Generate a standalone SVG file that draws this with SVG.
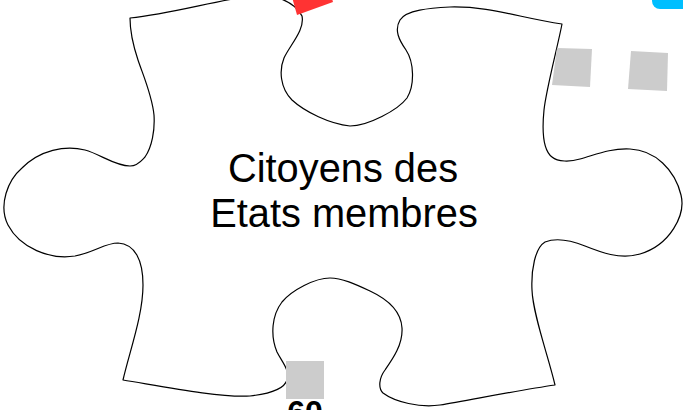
<svg xmlns="http://www.w3.org/2000/svg" width="683" height="410" viewBox="0 0 683 410">
<style>
.piece{fill:#ffffff;stroke:#000000;stroke-width:1.2;stroke-linejoin:round}
.gray{fill:#cccccc}
.lbl{font-family:"Liberation Sans",Arial,sans-serif;font-size:39.8px;fill:#000000;text-anchor:middle}
.num{font-family:"Liberation Sans",Arial,sans-serif;font-size:32px;font-weight:bold;fill:#000000;text-anchor:middle}
</style>
<rect x="0" y="0" width="683" height="410" fill="#ffffff"/>
<g id="piece">
<path class="piece" d="M130,18 C170,14 210,2 250,-4 C275,-7 295,2 302,16 C305,30 290,45 284,58 C279,70 280,88 292,100 C305,112 330,124 350,126 C368,126 398,110 407,98 C415,85 414,62 406,50 C399,40 394,30 400,20 C406,10 430,8 450,7 C490,6 520,18 562,24 C558,45 546,90 544,110 C542,130 543,150 552,157 C558,162 570,162 580,159 C595,155 610,148 630,149 C655,150 675,170 681,195 C686,215 670,245 640,254 C620,260 600,252 585,246 C570,240 555,238 545,242 C535,248 531,270 532,290 C533,315 548,355 555,385 C520,390 470,400 440,405 C420,408 395,402 383,393 C378,388 379,378 385,370 C392,360 403,345 402,328 C401,310 385,298 370,291 C355,284 342,278 330,278 C315,278 292,290 282,302 C272,315 270,335 277,352 C282,362 290,370 287,380 C284,390 268,394 250,396 C220,398 160,386 123,380 C130,350 143,315 143,285 C143,260 135,244 118,243 C105,243 95,252 75,256 C50,260 20,248 8,225 C-2,205 8,180 22,168 C40,150 65,145 85,150 C100,154 115,166 130,166 C138,166 142,160 145,157 C152,147 155,130 154,115 C152,95 143,75 138,60 C133,45 130,30 130,18 Z"/>
<text class="lbl" x="343" y="182">Citoyens des</text>
<text class="lbl" x="344" y="227">Etats membres</text>
</g>
<g id="red-tile"><polygon points="290,-10 297,15 333,2 328,-15" fill="#ff3333"/></g>
<g id="cyan-tile"><rect x="652" y="-20" width="60" height="29" rx="8" fill="#00bfff"/></g>
<g id="gray-tile-1"><polygon class="gray" points="557,48 592,49 590,87 552,85"/></g>
<g id="gray-tile-2"><polygon class="gray" points="631,51 668,53 667,91 628,89"/></g>
<g id="gray-tile-3"><rect class="gray" x="286" y="361" width="38" height="38"/></g>
<g id="number"><text class="num" x="305" y="423">60</text></g>
<g id="connectors"/>
</svg>
